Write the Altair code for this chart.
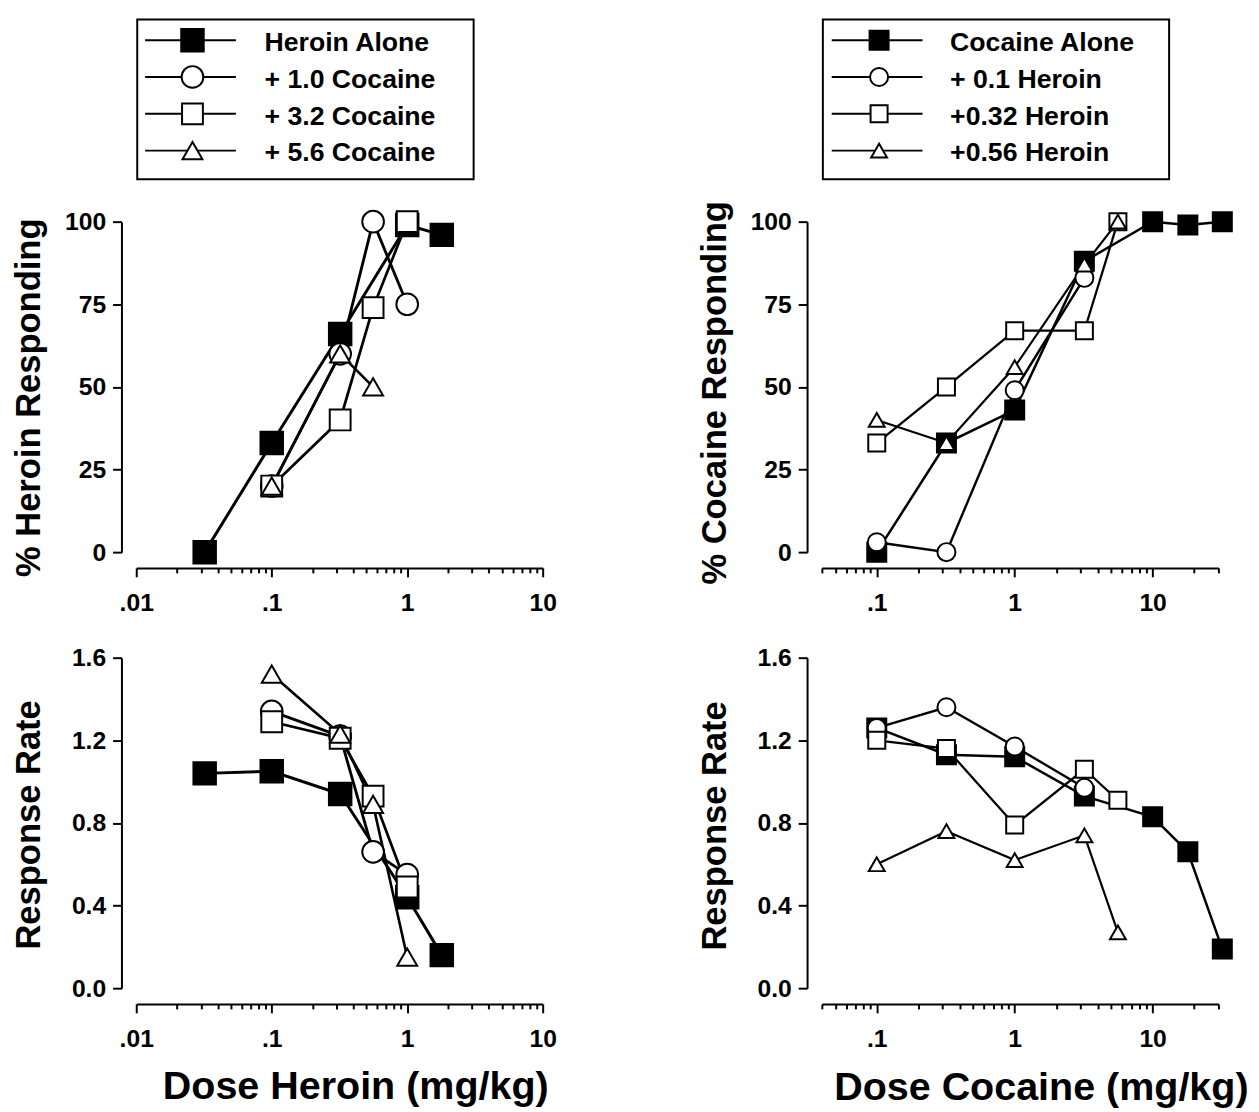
import altair as alt
import pandas as pd

FONT = "Liberation Sans"

# ---------------- series names ----------------
HEROIN_SERIES = ["Heroin Alone", "+ 1.0 Cocaine", "+ 3.2 Cocaine", "+ 5.6 Cocaine"]
COCAINE_SERIES = ["Cocaine Alone", "+ 0.1 Heroin", "+0.32 Heroin", "+0.56 Heroin"]

# ---------------- heroin dose-effect (left column) ----------------
HA_DOSE = [0.032, 0.1, 0.32, 1.0, 1.8]
HA_PCT = [0, 33, 66, 99, 96]
HA_RATE = [1.04, 1.05, 0.94, 0.44, 0.16]

HC10_DOSE = [0.1, 0.32, 0.56, 1.0]
HC10_PCT = [20, 60, 100, 75]
HC10_RATE = [1.34, 1.22, 0.66, 0.55]

HC32_DOSE = [0.1, 0.32, 0.56, 1.0]
HC32_PCT = [20, 40, 74, 100]
HC32_RATE = [1.29, 1.21, 0.93, 0.49]

HC56_PCT_DOSE = [0.1, 0.32, 0.56]
HC56_PCT = [20, 60, 50]
HC56_RATE_DOSE = [0.1, 0.32, 0.56, 1.0]
HC56_RATE = [1.52, 1.23, 0.89, 0.15]

# ---------------- cocaine dose-effect (right column) ----------------
CA_DOSE = [0.1, 0.32, 1.0, 3.2, 10, 18, 32]
CA_PCT = [0, 33, 43, 88, 100, 99, 100]
CA_RATE = [1.26, 1.13, 1.12, 0.93, 0.83, 0.66, 0.19]

CH01_DOSE = [0.1, 0.32, 1.0, 3.2]
CH01_PCT = [3, 0, 49, 83]
CH01_RATE = [1.26, 1.36, 1.17, 0.97]

CH032_DOSE = [0.1, 0.32, 1.0, 3.2, 5.6]
CH032_PCT = [33, 50, 67, 67, 100]
CH032_RATE = [1.20, 1.16, 0.79, 1.06, 0.91]

CH056_DOSE = [0.1, 0.32, 1.0, 3.2, 5.6]
CH056_PCT = [40, 33, 56, 87, 100]
CH056_RATE = [0.60, 0.76, 0.62, 0.74, 0.27]

# ---------------- axes ----------------
HEROIN_X_DOMAIN = [0.01, 10]
HEROIN_X_MAJOR = [0.01, 0.1, 1, 10]
HEROIN_X_LABELS = [".01", ".1", "1", "10"]
HEROIN_X_MINOR = [0.02, 0.03, 0.04, 0.05, 0.06, 0.07, 0.08, 0.09,
                  0.2, 0.3, 0.4, 0.5, 0.6, 0.7, 0.8, 0.9,
                  2, 3, 4, 5, 6, 7, 8, 9]

COCAINE_X_DOMAIN = [0.04, 30]
COCAINE_X_MAJOR = [0.1, 1, 10]
COCAINE_X_LABELS = [".1", "1", "10"]
COCAINE_X_MINOR = [0.04, 0.05, 0.06, 0.07, 0.08, 0.09,
                   0.2, 0.3, 0.4, 0.5, 0.6, 0.7, 0.8, 0.9,
                   2, 3, 4, 5, 6, 7, 8, 9, 20, 30]

PCT_DOMAIN = [0, 100]
PCT_TICKS = [0, 25, 50, 75, 100]
RATE_DOMAIN = [0, 1.6]
RATE_TICKS = [0.0, 0.4, 0.8, 1.2, 1.6]

# ---------------- styles ----------------
SHAPES = ["square", "circle", "square", "triangle-up"]
FILLS = ["black", "white", "white", "white"]
SIZES = [520, 260, 310, 350]
LINE_W = [3.0, 2.2, 2.2, 2.2]


def long_frame(series, doses, values):
    rows = []
    for k, (name, ds, vs) in enumerate(zip(series, doses, values)):
        for d, v in zip(ds, vs):
            rows.append({"series": name, "k": k, "dose": d, "value": v})
    return pd.DataFrame(rows)


def label_expr(values, labels):
    expr = "'" + labels[-1] + "'"
    for i in range(len(values) - 2, -1, -1):
        thr = (values[i] * values[i + 1]) ** 0.5
        expr = f"datum.value < {thr} ? '{labels[i]}' : ({expr})"
    return expr


def panel(series, doses, values, xdom, xmajor, xlabels, xminor,
          ydom, yticks, yfmt, ytitle, ytitle_y, width, height,
          xtitle=None, xtitle_x=0, xtitle_y=0,
          legend=False, box_w=342, marker_x=57):
    df = long_frame(series, doses, values)
    xs = alt.Scale(type="log", domain=xdom, nice=False)
    ys = alt.Scale(domain=ydom, nice=False, zero=False)

    if xtitle is None:
        xtitle_kw = dict(title=None)
    else:
        xtitle_kw = dict(title=xtitle, titleFontSize=40, titleX=xtitle_x,
                         titleY=xtitle_y, titleBaseline="alphabetic",
                         titleAlign="center")

    major_axis = alt.Axis(values=xmajor, labelExpr=label_expr(xmajor, xlabels),
                          tickSize=9, labelPadding=14, offset=16, orient="bottom",
                          **xtitle_kw)
    minor_axis = alt.Axis(values=xminor, labels=False, tickSize=5, domain=False,
                          offset=16, orient="bottom", title=None)
    y_axis = alt.Axis(values=yticks, format=yfmt, tickSize=9, labelPadding=7,
                      offset=15, title=ytitle, titleFontSize=35, titleX=-83,
                      titleY=ytitle_y, titleBaseline="alphabetic", titleAlign="center")

    shape = alt.Shape("series:N", scale=alt.Scale(domain=series, range=SHAPES), legend=None)
    fill = alt.Fill("series:N", scale=alt.Scale(domain=series, range=FILLS), legend=None)
    size = alt.Size("series:N", scale=alt.Scale(domain=series, range=SIZES), legend=None)

    lines = alt.Chart(df).mark_line(color="black").encode(
        x=alt.X("dose:Q", scale=xs, axis=major_axis),
        y=alt.Y("value:Q", scale=ys, axis=y_axis),
        strokeWidth=alt.StrokeWidth("series:N",
                                    scale=alt.Scale(domain=series, range=LINE_W),
                                    legend=None),
    )
    points = alt.Chart(df).mark_point(filled=True, stroke="black", strokeWidth=2,
                                      opacity=1).encode(
        x=alt.X("dose:Q", scale=xs, axis=None),
        y=alt.Y("value:Q", scale=ys, axis=None),
        shape=shape, fill=fill, size=size,
        order=alt.Order("k:Q"),
    )
    minor = alt.Chart(df).mark_point(opacity=0).encode(
        x=alt.X("dose:Q", scale=xs, axis=minor_axis),
    )
    layers = [lines, points, minor]

    if legend:
        leg_df = pd.DataFrame({"series": series, "k": list(range(len(series)))})
        leg_y = alt.Y("series:N", sort=series,
                      scale=alt.Scale(type="point", domain=series,
                                      range=[-184, -72], padding=0),
                      axis=None)
        box = alt.Chart(pd.DataFrame({"b": [0]})).mark_rect(
            fill="white", fillOpacity=0, stroke="black", strokeWidth=2
        ).encode(x=alt.value(1), x2=alt.value(box_w), y=alt.value(-205), y2=alt.value(-43))
        leg_line = alt.Chart(leg_df).mark_rule(color="black", strokeWidth=2).encode(
            x=alt.value(marker_x - 48), x2=alt.value(marker_x + 44), y=leg_y)
        leg_pts = alt.Chart(leg_df).mark_point(filled=True, stroke="black",
                                               strokeWidth=2, opacity=1).encode(
            x=alt.value(marker_x), y=leg_y, shape=shape, fill=fill, size=size)
        leg_txt = alt.Chart(leg_df).mark_text(
            align="left", baseline="middle", dy=3, font=FONT, fontSize=27,
            fontWeight="bold", color="black"
        ).encode(x=alt.value(130), y=leg_y, text="series:N")
        layers += [box, leg_line, leg_pts, leg_txt]

    return (alt.layer(*layers)
            .resolve_scale(y="independent")
            .resolve_axis(x="independent")
            .properties(width=width, height=height))


TL = panel(HEROIN_SERIES,
           [HA_DOSE, HC10_DOSE, HC32_DOSE, HC56_PCT_DOSE],
           [HA_PCT, HC10_PCT, HC32_PCT, HC56_PCT],
           HEROIN_X_DOMAIN, HEROIN_X_MAJOR, HEROIN_X_LABELS, HEROIN_X_MINOR,
           PCT_DOMAIN, PCT_TICKS, "d", "% Heroin Responding", 178, 412, 335,
           legend=True, box_w=342, marker_x=57)

TR = panel(COCAINE_SERIES,
           [CA_DOSE, CH01_DOSE, CH032_DOSE, CH056_DOSE],
           [CA_PCT, CH01_PCT, CH032_PCT, CH056_PCT],
           COCAINE_X_DOMAIN, COCAINE_X_MAJOR, COCAINE_X_LABELS, COCAINE_X_MINOR,
           PCT_DOMAIN, PCT_TICKS, "d", "% Cocaine Responding", 173, 402, 335,
           legend=True, box_w=352, marker_x=58)

BL = panel(HEROIN_SERIES,
           [HA_DOSE, HC10_DOSE, HC32_DOSE, HC56_RATE_DOSE],
           [HA_RATE, HC10_RATE, HC32_RATE, HC56_RATE],
           HEROIN_X_DOMAIN, HEROIN_X_MAJOR, HEROIN_X_LABELS, HEROIN_X_MINOR,
           RATE_DOMAIN, RATE_TICKS, ".1f", "Response Rate", 169, 412, 335,
           xtitle="Dose Heroin (mg/kg)", xtitle_x=222, xtitle_y=96)

BR = panel(COCAINE_SERIES,
           [CA_DOSE, CH01_DOSE, CH032_DOSE, CH056_DOSE],
           [CA_RATE, CH01_RATE, CH032_RATE, CH056_RATE],
           COCAINE_X_DOMAIN, COCAINE_X_MAJOR, COCAINE_X_LABELS, COCAINE_X_MINOR,
           RATE_DOMAIN, RATE_TICKS, ".1f", "Response Rate", 170, 402, 335,
           xtitle="Dose Cocaine (mg/kg)", xtitle_x=222, xtitle_y=97)

chart = (
    alt.concat(TL, TR, BL, BR, columns=2,
               spacing={"row": 107, "column": 283}, bounds="flush")
    .properties(padding={"left": 3, "top": 3, "right": 2, "bottom": 2})
    .configure_view(stroke=None)
    .configure_axis(
        labelFont=FONT, labelFontSize=25, labelFontWeight="bold", labelColor="black",
        titleFont=FONT, titleFontWeight="bold", titleColor="black",
        domainColor="black", domainWidth=2, tickColor="black", tickWidth=2,
        grid=False, labelFlush=False, labelOverlap=False,
    )
)

chart.save("out.html", embed_options={"renderer": "svg", "actions": False})
